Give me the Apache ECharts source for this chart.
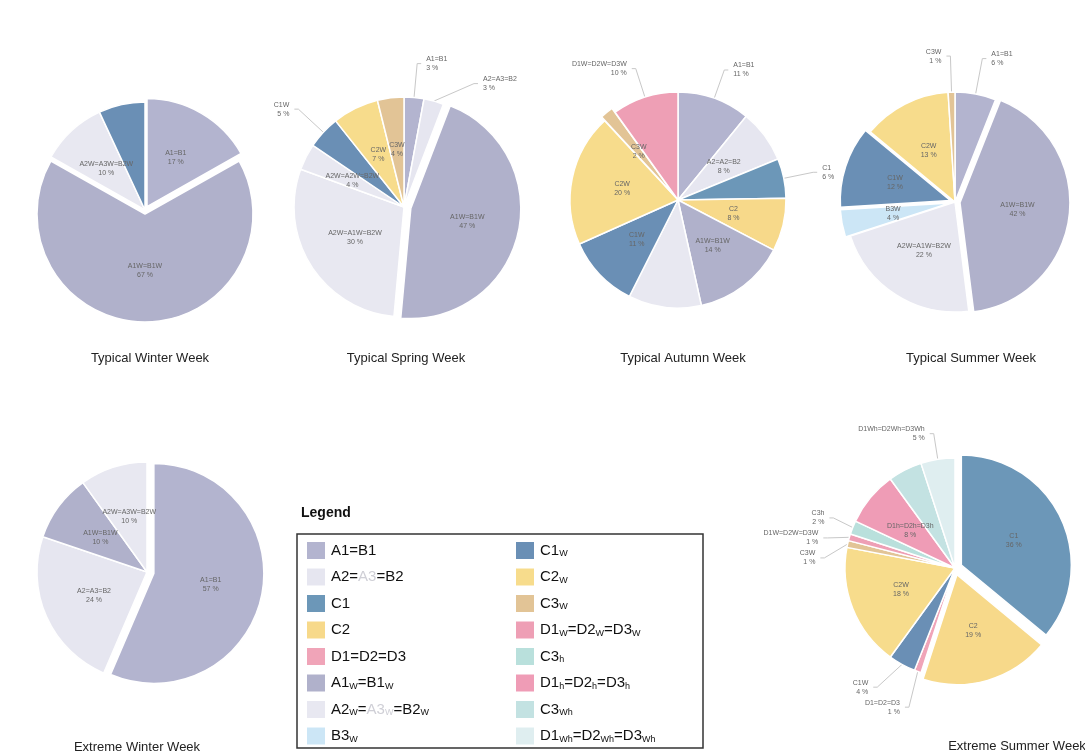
<!DOCTYPE html>
<html>
<head>
<meta charset="utf-8">
<script src="https://cdn.jsdelivr.net/npm/echarts@6/dist/echarts.min.js"></script>
<style>html,body{margin:0;padding:0;background:#fff;}#c{width:1085px;height:754px;}</style>
</head>
<body>
<div id="c"></div>
<script>
// ---- data ----
const winterNames  = ['A1=B1','A1W=B1W','A2W=A3W=B2W','C1W'];
const winterValues = [17, 67, 10, 7];

const springNames  = ['A1=B1','A2=A3=B2','A1W=B1W','A2W=A3W=B2W','A2W=A3W=B2W','C1W','C2W','C3W'];
const springLabels = ['A1=B1','A2=A3=B2','A1W=B1W','A2W=A1W=B2W','A2W=A2W=B2W','C1W','C2W','C3W'];
const springValues = [3, 3, 47, 30, 4, 5, 7, 4];

const autumnNames  = ['A1=B1','A2=A3=B2','C1','C2','A1W=B1W','A2W=A3W=B2W','C1W','C2W','C3W','D1W=D2W=D3W'];
const autumnLabels = ['A1=B1','A2=A2=B2','C1','C2','A1W=B1W','A2W=A3W=B2W','C1W','C2W','C3W','D1W=D2W=D3W'];
const autumnValues = [11, 8, 6, 8, 14, 11, 11, 20, 2, 10];

const summerNames  = ['A1=B1','A1W=B1W','A2W=A3W=B2W','B3W','C1W','C2W','C3W'];
const summerLabels = ['A1=B1','A1W=B1W','A2W=A1W=B2W','B3W','C1W','C2W','C3W'];
const summerValues = [6, 42, 22, 4, 12, 13, 1];

const exWinterNames  = ['A1=B1','A2=A3=B2','A1W=B1W','A2W=A3W=B2W'];
const exWinterValues = [57, 24, 10, 10];

const exSummerNames  = ['C1','C2','D1=D2=D3','C1W','C2W','C3W','D1W=D2W=D3W','C3h','D1h=D2h=D3h','C3Wh','D1Wh=D2Wh=D3Wh'];
const exSummerValues = [36, 19, 1, 4, 18, 1, 1, 2, 8, 5, 5];

const chartTitles = ['Typical Winter Week','Typical Spring Week','Typical Autumn Week','Typical Summer Week','Extreme Winter Week','Extreme Summer Week'];

const legendCol1 = ['A1=B1','A2=A3=B2','C1','C2','D1=D2=D3','A1W=B1W','A2W=A3W=B2W','B3W'];
const legendCol2 = ['C1W','C2W','C3W','D1W=D2W=D3W','C3h','D1h=D2h=D3h','C3Wh','D1Wh=D2Wh=D3Wh'];

// ---- styling ----
const colorMap = {
  'A1=B1':'#b3b4cf','A2=A3=B2':'#e6e6f0','C1':'#6c97b8','C2':'#f7d98a','D1=D2=D3':'#f0a4b8',
  'A1W=B1W':'#b0b1cb','A2W=A3W=B2W':'#e8e8f1','B3W':'#cce6f6',
  'C1W':'#6a8fb5','C2W':'#f7dc8c','C3W':'#e2c496','D1W=D2W=D3W':'#ee9fb5',
  'C3h':'#b9e0dc','D1h=D2h=D3h':'#ef9cb6','C3Wh':'#c3e2e2','D1Wh=D2Wh=D3Wh':'#dfeef0'
};
const legendRich = {
  'A1=B1':'A1=B1','A2=A3=B2':'A2={g|A3}=B2','C1':'C1','C2':'C2','D1=D2=D3':'D1=D2=D3',
  'A1W=B1W':'A1{s|W}=B1{s|W}','A2W=A3W=B2W':'A2{s|W}={g|A3}{gs|W}=B2{s|W}','B3W':'B3{s|W}',
  'C1W':'C1{s|W}','C2W':'C2{s|W}','C3W':'C3{s|W}','D1W=D2W=D3W':'D1{s|W}=D2{s|W}=D3{s|W}',
  'C3h':'C3{s|h}','D1h=D2h=D3h':'D1{s|h}=D2{s|h}=D3{s|h}','C3Wh':'C3{s|Wh}','D1Wh=D2Wh=D3Wh':'D1{s|Wh}=D2{s|Wh}=D3{s|Wh}'
};

function makePie(names, values, labels, center, radius, outsideIdx, explodedIdx, offset, lineLen) {
  return {
    type:'pie', center:center, radius:radius, startAngle:90, clockwise:true,
    selectedMode:'multiple', selectedOffset: offset || 6,
    animation:false, avoidLabelOverlap:true,
    itemStyle:{borderColor:'#fff', borderWidth:1.5},
    emphasis:{disabled:true},
    select:{itemStyle:{borderColor:'#fff', borderWidth:1.5}},
    label:{position:'inside', fontSize:7, color:'#666', lineHeight:9, fontFamily:'Liberation Sans',
      formatter: p => (p.data.text || p.name) + '\n' + p.value + ' %'},
    labelLine:{show:false},
    data: names.map((n,i) => {
      const d = {name:n, value:values[i], text: labels ? labels[i] : n, itemStyle:{color:colorMap[n]}};
      if (explodedIdx.indexOf(i) >= 0) d.selected = true;
      if (outsideIdx.indexOf(i) >= 0) {
        d.label = {position:'outside', color:'#666'};
        d.labelLine = {show:true, length:lineLen || 22, length2:4, lineStyle:{color:'#c8c8c8', width:1}};
      }
      return d;
    })
  };
}

const chart = echarts.init(document.getElementById('c'), null, {renderer:'canvas'});
const titlePos = [[145,347],[401,347],[678,347],[966,347],[132,736],[1012,735]];
const titles = chartTitles.map((t,i) => ({
  text:t, left:titlePos[i][0], top:titlePos[i][1], textAlign:'center',
  textStyle:{fontSize:13, fontWeight:'normal', color:'#222', fontFamily:'Liberation Sans'}
}));
titles.push({text:'Legend', left:296, top:501, textStyle:{fontSize:14, fontWeight:'bold', color:'#111', fontFamily:'Liberation Sans'}});

const legendBase = {
  orient:'vertical', top:540, height:240, itemWidth:20, itemHeight:19, itemGap:5.5, icon:'rect',
  selectedMode:false, padding:0,
  textStyle:{fontSize:15, color:'#111', fontFamily:'Liberation Sans',
    rich:{s:{fontSize:9, color:'#111', padding:[7,0,0,0], fontFamily:'Liberation Sans'},
          g:{fontSize:15, color:'#cfcfd6', fontFamily:'Liberation Sans'},
          gs:{fontSize:9, color:'#cfcfd6', padding:[7,0,0,0], fontFamily:'Liberation Sans'}}},
  formatter: n => legendRich[n] || n
};

chart.setOption({
  backgroundColor:'#fff',
  title: titles,
  legend: [
    Object.assign({}, legendBase, {left:305, data:legendCol1}),
    Object.assign({}, legendBase, {left:514, data:legendCol2})
  ],
  graphic:[{type:'rect', shape:{x:297, y:534, width:406, height:214},
    style:{fill:'none', stroke:'#333', lineWidth:1.5}}],
  series: [
    makePie(winterNames, winterValues, null, [145,210], 108, [], [0,1], 4, 22),
    makePie(springNames, springValues, springLabels, [404,207], 110, [0,1,5], [2], 7, 34),
    makePie(autumnNames, autumnValues, autumnLabels, [678,200], 108, [0,2,9], [8], 5, 30),
    makePie(summerNames, summerValues, summerLabels, [955,202], 110, [0,6], [1,3,4], 5, 36),
    makePie(exWinterNames, exWinterValues, null, [147,572], 110, [], [0], 7, 22),
    makePie(exSummerNames, exSummerValues, null, [955,568], 110, [2,3,5,6,7,10], [0,1], 7, 26)
  ]
});
</script>
</body>
</html>
